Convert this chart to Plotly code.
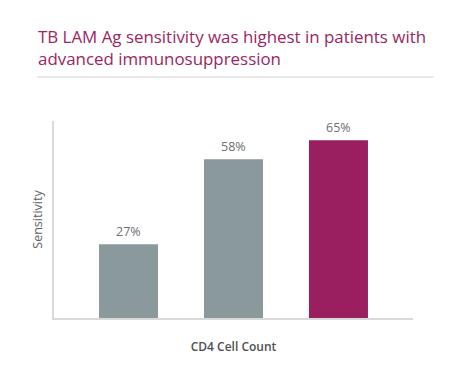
import plotly.graph_objects as go

categories = ["CD4 ≤100", "CD4 101–200", "CD4 >200"]
sensitivity = [27, 58, 65]
labels = ["27%", "58%", "65%"]
bar_colors = ["#8a999c", "#8a999c", "#991f60"]

OFF = 8  # page body margin
W, H = 465 - OFF, 380 - OFF
L, R, T, B = 54 - OFF, 52, 121 - OFF, 62
pw = W - L - R
ph = H - T - B

def px_x(x):
    return (x - OFF - L) / pw

def px_y(y):
    return 1 + (T - (y - OFF)) / ph

fig = go.Figure()
fig.add_trace(go.Bar(
    x=categories, y=sensitivity,
    marker=dict(color=bar_colors, line=dict(width=0)),
    width=0.562, hoverinfo="skip",
))
for c, v, t in zip(categories, sensitivity, labels):
    fig.add_annotation(x=c, y=v, text=t, showarrow=False, yshift=13,
                       font=dict(family="Open Sans", size=12.5, color="#6d6e70"))

fig.add_annotation(
    xref="paper", yref="paper",
    x=px_x(35.5), y=px_y(23),
    xanchor="left", yanchor="top", align="left", showarrow=False,
    text="TB LAM Ag sensitivity was highest in patients with<br>advanced immunosuppression",
    font=dict(family="Open Sans", size=16.9, color="#9a2662"),
)
fig.add_shape(type="line", xref="paper", yref="paper",
              x0=px_x(37), x1=px_x(434), y0=px_y(77), y1=px_y(77),
              line=dict(color="#d4d4d4", width=1.2))

fig.update_layout(
    width=W, height=H,
    margin=dict(l=L, r=R, t=T, b=B, pad=0),
    paper_bgcolor="white", plot_bgcolor="white",
    showlegend=False,
    font=dict(family="Open Sans", color="#5b5e60"),
    xaxis=dict(range=[-0.71, 2.71], showticklabels=False, ticks="",
               showgrid=False, zeroline=False, showline=True,
               linecolor="#d9d9d9", linewidth=1.5,
               title=dict(text="CD4 Cell Count", standoff=24,
                          font=dict(size=12, color="#4d5153", family="Open Sans", weight=600))),
    yaxis=dict(range=[0, 72], showticklabels=False, ticks="",
               showgrid=False, zeroline=False, showline=True,
               linecolor="#d9d9d9", linewidth=1.5,
               title=dict(text="Sensitivity", standoff=7,
                          font=dict(size=12.5, color="#5b5e60"))),
)
fig.write_html("out.html")
